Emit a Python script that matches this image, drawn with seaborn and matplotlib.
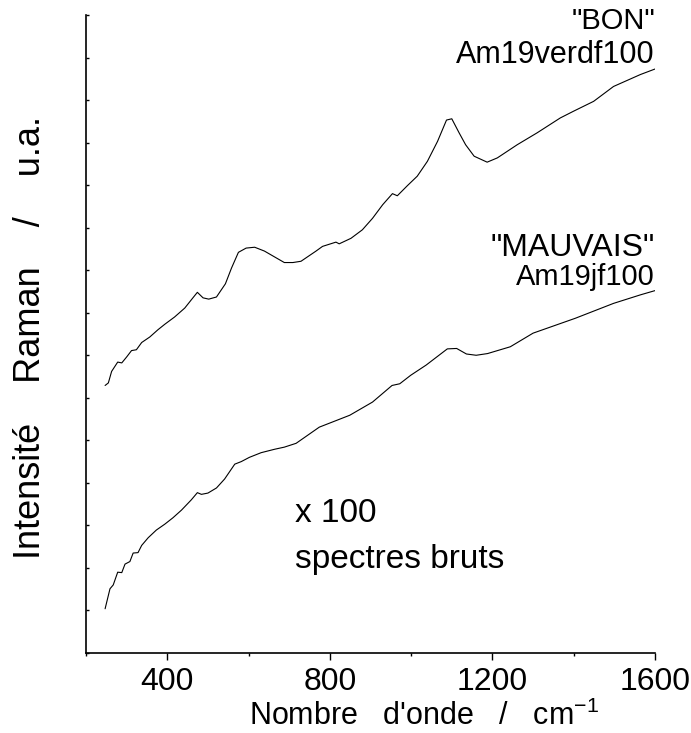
import matplotlib
matplotlib.use("Agg")
import matplotlib.pyplot as plt
import seaborn as sns
import pandas as pd
from matplotlib.ticker import MultipleLocator

# Data (wavenumber in cm-1, intensity in arbitrary units)
bon_x = [247, 255, 263, 278, 288, 300, 312, 324, 337, 357, 377, 394, 418, 443, 463,
         474, 488, 502, 521, 543, 558, 575, 594, 615, 639, 668, 688, 709, 729, 766,
         782, 815, 823, 852, 880, 905, 930, 954, 966, 991, 1015, 1040, 1065, 1087, 1100,
         1118, 1134, 1155, 1187, 1212, 1261, 1310, 1367, 1400, 1449, 1498, 1531, 1564, 1600]
bon_y = [6.29, 6.35, 6.62, 6.84, 6.82, 6.96, 7.11, 7.13, 7.30, 7.43, 7.60, 7.73, 7.90, 8.11, 8.35,
         8.48, 8.35, 8.32, 8.37, 8.68, 9.05, 9.42, 9.52, 9.54, 9.45, 9.29, 9.18, 9.18, 9.21, 9.45,
         9.56, 9.66, 9.62, 9.75, 9.95, 10.22, 10.54, 10.80, 10.75, 10.99, 11.21, 11.56, 12.03, 12.53, 12.56,
         12.23, 11.95, 11.68, 11.54, 11.64, 11.95, 12.23, 12.58, 12.74, 12.97, 13.32, 13.46, 13.60, 13.73]

mauvais_x = [247, 259, 267, 278, 288, 296, 308, 316, 328, 337, 353, 373, 394, 414, 435,
             459, 474, 484, 500, 521, 541, 566, 582, 602, 631, 664, 688,
             717, 774, 849, 905, 953, 972, 999, 1037, 1089, 1112, 1136, 1160, 1188, 1244,
             1300, 1404, 1498, 1564, 1600]
mauvais_y = [1.04, 1.51, 1.60, 1.90, 1.89, 2.09, 2.15, 2.35, 2.36, 2.53, 2.71, 2.89, 3.03, 3.18, 3.36,
             3.60, 3.77, 3.73, 3.76, 3.88, 4.09, 4.44, 4.50, 4.60, 4.71, 4.79, 4.84,
             4.93, 5.31, 5.59, 5.90, 6.29, 6.33, 6.53, 6.77, 7.15, 7.16, 7.03, 7.00, 7.04, 7.20,
             7.52, 7.87, 8.22, 8.42, 8.52]

x_ticks = [400, 800, 1200, 1600]

sns.set_style("ticks")
plt.rcParams["font.family"] = ["Liberation Sans", "DejaVu Sans"]
plt.rcParams["mathtext.default"] = "regular"
plt.rcParams["text.color"] = "black"
plt.rcParams["axes.labelcolor"] = "black"
plt.rcParams["xtick.color"] = "black"
plt.rcParams["ytick.color"] = "black"

fig = plt.figure(figsize=(6.91, 7.33), dpi=100)
ax = fig.add_axes([86 / 691, 80 / 733, 569 / 691, 638 / 733])

df_bon = pd.DataFrame({"x": bon_x, "y": bon_y})
df_mau = pd.DataFrame({"x": mauvais_x, "y": mauvais_y})
sns.lineplot(data=df_bon, x="x", y="y", ax=ax, color="black", lw=0.8,
             sort=False, estimator=None)
sns.lineplot(data=df_mau, x="x", y="y", ax=ax, color="black", lw=0.8,
             sort=False, estimator=None)

ax.set_xlim(200, 1600)
ax.set_ylim(0, 15)
ax.set_xticks(x_ticks)
ax.set_xticklabels([str(t) for t in x_ticks])
ax.xaxis.set_minor_locator(MultipleLocator(200))
ax.yaxis.set_major_locator(MultipleLocator(1))
ax.set_yticklabels([])

for s in ["top", "right"]:
    ax.spines[s].set_visible(False)
for s in ["left", "bottom"]:
    ax.spines[s].set_linewidth(1.2)
    ax.spines[s].set_color("black")

ax.tick_params(axis="x", which="major", direction="out", length=5, width=1,
               labelsize=23, pad=5, colors="black")
ax.tick_params(axis="x", which="minor", direction="out", length=2.5, width=1, colors="black")
ax.tick_params(axis="y", which="major", direction="in", length=2.5, width=1, left=True,
               colors="black")

ax.set_xlabel("Nombre   d'onde   /   cm$^{-1}$", fontsize=22, color="black")
ax.xaxis.set_label_coords(0.594, -0.113)
ax.xaxis.label.set_verticalalignment("baseline")
ax.set_ylabel("Intensité    Raman    /    u.a.", fontsize=26, color="black")
ax.yaxis.set_label_coords(-0.098, 0.495)
ax.yaxis.label.set_verticalalignment("center")

ax.text(1600, 14.66, '"BON"', ha="right", va="baseline", fontsize=21, color="black")
ax.text(1600, 13.87, "Am19verdf100", ha="right", va="baseline", fontsize=22, color="black")
ax.text(1600, 9.33, '"MAUVAIS"', ha="right", va="baseline", fontsize=23, color="black")
ax.text(1600, 8.66, "Am19jf100", ha="right", va="baseline", fontsize=21, color="black")
ax.text(715, 3.08, "x 100", ha="left", va="baseline", fontsize=24, color="black")
ax.text(715, 2.0, "spectres bruts", ha="left", va="baseline", fontsize=24, color="black")

fig.savefig("out.png", dpi=100)
